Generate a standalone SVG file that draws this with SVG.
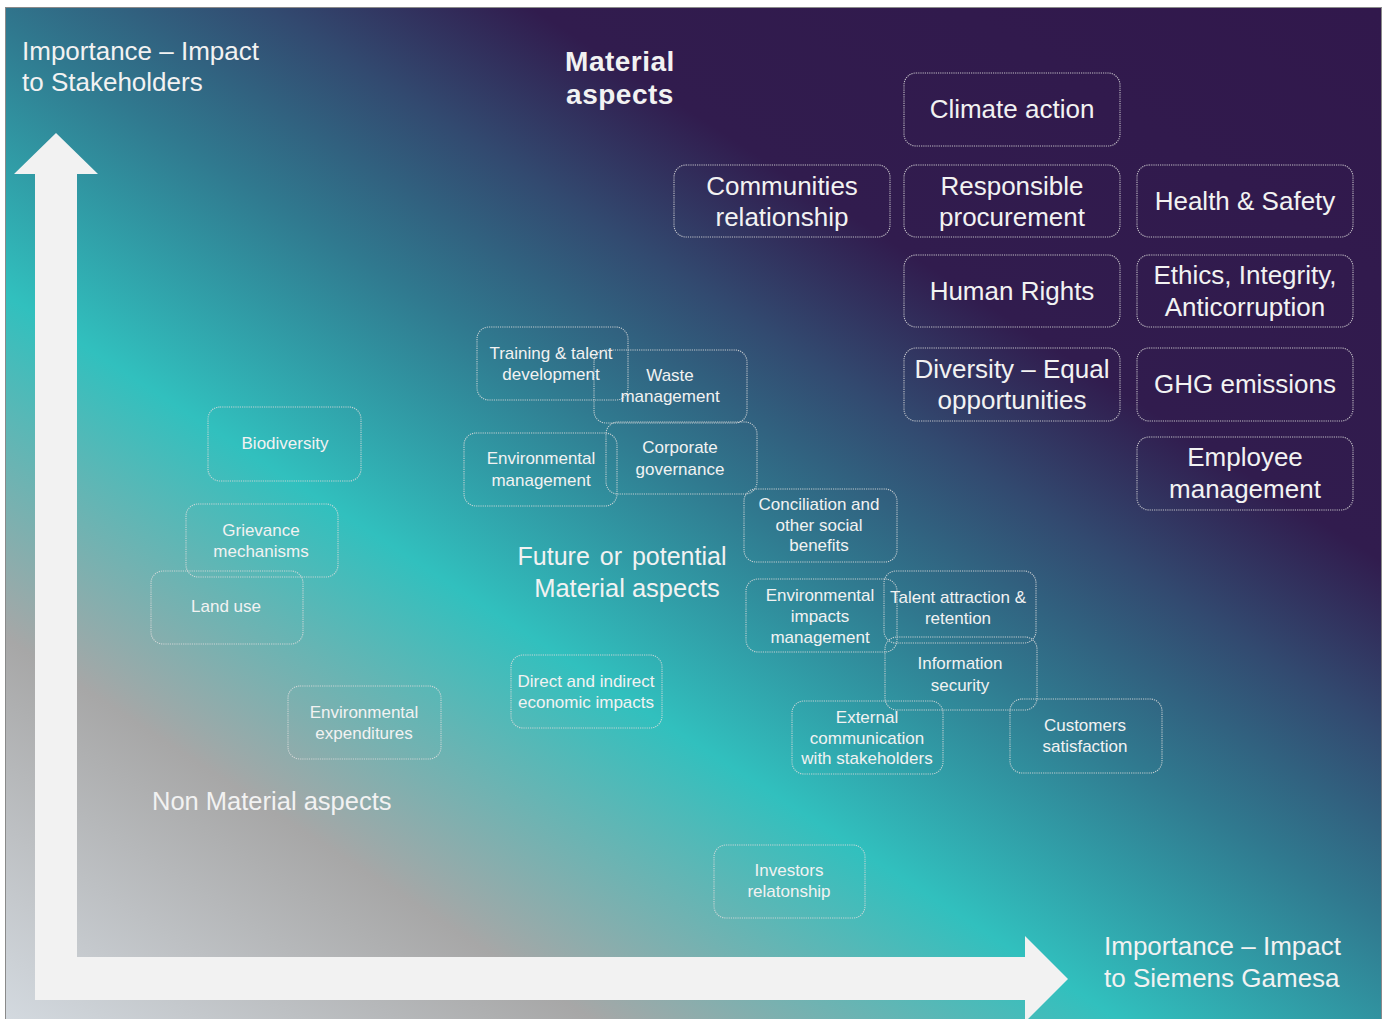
<svg xmlns="http://www.w3.org/2000/svg" width="1388" height="1019" viewBox="0 0 1388 1019">
<defs>
<linearGradient id="bg" gradientUnits="userSpaceOnUse" x1="6" y1="1019" x2="877" y2="-320">
<stop offset="0" stop-color="#d3d9df"/>
<stop offset="0.2" stop-color="#a7a7a7"/>
<stop offset="0.38" stop-color="#31c0be"/>
<stop offset="0.52" stop-color="#30798f"/>
<stop offset="0.62" stop-color="#324a70"/>
<stop offset="0.71" stop-color="#311c4e"/>
<stop offset="1" stop-color="#31184c"/>
</linearGradient>
</defs>
<style>
.box{fill:none;stroke:#dcdcdc;stroke-opacity:0.85;stroke-width:1.1;stroke-dasharray:1.2 1}
.t{font-family:"Liberation Sans",Arial,sans-serif;fill:#f2f2f2;text-anchor:middle}
.lg{font-size:26px}
.md{font-size:17px}
.lbl{font-family:"Liberation Sans",Arial,sans-serif;fill:#f2f2f2}
</style>
<rect x="0" y="0" width="1388" height="1019" fill="#ffffff"/>
<rect x="5.5" y="7.5" width="1376" height="1020" fill="url(#bg)" stroke="#8a8a8a" stroke-width="1"/>
<g id="axes">
<path d="M35 1000 L35 174 L14 174 L56 133 L98 174 L77 174 L77 957 L1025 957 L1025 936 L1068 979 L1025 1022 L1025 1000 Z" fill="#f2f2f2"/>
</g>
<g id="connectors"></g>
<g id="labels">
<text class="lbl" x="22" y="60" font-size="26">Importance – Impact</text>
<text class="lbl" x="22" y="91" font-size="26">to Stakeholders</text>
<text class="lbl" x="1104" y="955" font-size="26">Importance – Impact</text>
<text class="lbl" x="1104" y="987" font-size="26">to Siemens Gamesa</text>
<text class="t" x="620" y="71" font-size="28" font-weight="bold" letter-spacing="0.5">Material</text>
<text class="t" x="620" y="104" font-size="28" font-weight="bold" letter-spacing="0.5">aspects</text>
<text class="t" x="622" y="565" font-size="25" word-spacing="3">Future or potential</text>
<text class="t" x="627" y="597" font-size="25.5">Material aspects</text>
<text class="lbl" x="152" y="810" font-size="25.5">Non Material aspects</text>
</g>
<g id="climate-action"><rect class="box" x="904" y="73" width="216" height="73" rx="12"/><text class="t lg" x="1012" y="118">Climate action</text></g>
<g id="communities-relationship"><rect class="box" x="674" y="165" width="216" height="72" rx="12"/><text class="t lg" x="782" y="195">Communities</text><text class="t lg" x="782" y="226">relationship</text></g>
<g id="responsible-procurement"><rect class="box" x="904" y="165" width="216" height="72" rx="12"/><text class="t lg" x="1012" y="195">Responsible</text><text class="t lg" x="1012" y="226">procurement</text></g>
<g id="health-safety"><rect class="box" x="1137" y="165" width="216" height="72" rx="12"/><text class="t lg" x="1245" y="210">Health &amp; Safety</text></g>
<g id="human-rights"><rect class="box" x="904" y="255" width="216" height="72" rx="12"/><text class="t lg" x="1012" y="300">Human Rights</text></g>
<g id="ethics"><rect class="box" x="1137" y="255" width="216" height="72" rx="12"/><text class="t lg" x="1245" y="284">Ethics, Integrity,</text><text class="t lg" x="1245" y="316">Anticorruption</text></g>
<g id="diversity"><rect class="box" x="904" y="348" width="216" height="73" rx="12"/><text class="t lg" x="1012" y="378">Diversity – Equal</text><text class="t lg" x="1012" y="409">opportunities</text></g>
<g id="ghg-emissions"><rect class="box" x="1137" y="348" width="216" height="73" rx="12"/><text class="t lg" x="1245" y="393">GHG emissions</text></g>
<g id="employee-management"><rect class="box" x="1137" y="437" width="216" height="73" rx="12"/><text class="t lg" x="1245" y="466">Employee</text><text class="t lg" x="1245" y="498">management</text></g>
<g id="training-talent"><rect class="box" x="477" y="327" width="151" height="73" rx="12"/><text class="t md" x="551" y="359">Training &amp; talent</text><text class="t md" x="551" y="380">development</text></g>
<g id="waste-management"><rect class="box" x="594" y="350" width="153" height="73" rx="12"/><text class="t md" x="670" y="381">Waste</text><text class="t md" x="670" y="402">management</text></g>
<g id="environmental-management"><rect class="box" x="464" y="433" width="153" height="73" rx="12"/><text class="t md" x="541" y="464">Environmental</text><text class="t md" x="541" y="486">management</text></g>
<g id="corporate-governance"><rect class="box" x="606" y="422" width="151" height="72" rx="12"/><text class="t md" x="680" y="453">Corporate</text><text class="t md" x="680" y="475">governance</text></g>
<g id="conciliation"><rect class="box" x="744" y="489" width="153" height="73" rx="12"/><text class="t md" x="819" y="510">Conciliation and</text><text class="t md" x="819" y="531">other social</text><text class="t md" x="819" y="551">benefits</text></g>
<g id="environmental-impacts"><rect class="box" x="746" y="579" width="151" height="73" rx="12"/><text class="t md" x="820" y="601">Environmental</text><text class="t md" x="820" y="622">impacts</text><text class="t md" x="820" y="643">management</text></g>
<g id="talent-attraction"><rect class="box" x="884" y="571" width="152" height="72" rx="12"/><text class="t md" x="958" y="603">Talent attraction &amp;</text><text class="t md" x="958" y="624">retention</text></g>
<g id="information-security"><rect class="box" x="885" y="637" width="152" height="73" rx="12"/><text class="t md" x="960" y="669">Information</text><text class="t md" x="960" y="691">security</text></g>
<g id="external-communication"><rect class="box" x="792" y="701" width="151" height="73" rx="12"/><text class="t md" x="867" y="723">External</text><text class="t md" x="867" y="744">communication</text><text class="t md" x="867" y="764">with stakeholders</text></g>
<g id="customers-satisfaction"><rect class="box" x="1010" y="699" width="152" height="74" rx="12"/><text class="t md" x="1085" y="731">Customers</text><text class="t md" x="1085" y="752">satisfaction</text></g>
<g id="biodiversity"><rect class="box" x="208" y="407" width="153" height="74" rx="12"/><text class="t md" x="285" y="449">Biodiversity</text></g>
<g id="grievance-mechanisms"><rect class="box" x="186" y="504" width="152" height="73" rx="12"/><text class="t md" x="261" y="536">Grievance</text><text class="t md" x="261" y="557">mechanisms</text></g>
<g id="land-use"><rect class="box" x="151" y="571" width="152" height="73" rx="12"/><text class="t md" x="226" y="612">Land use</text></g>
<g id="environmental-expenditures"><rect class="box" x="288" y="686" width="153" height="73" rx="12"/><text class="t md" x="364" y="718">Environmental</text><text class="t md" x="364" y="739">expenditures</text></g>
<g id="direct-indirect-economic"><rect class="box" x="511" y="655" width="151" height="73" rx="12"/><text class="t md" x="586" y="687">Direct and indirect</text><text class="t md" x="586" y="708">economic impacts</text></g>
<g id="investors-relationship"><rect class="box" x="714" y="845" width="151" height="73" rx="12"/><text class="t md" x="789" y="876">Investors</text><text class="t md" x="789" y="897">relatonship</text></g>
</svg>
